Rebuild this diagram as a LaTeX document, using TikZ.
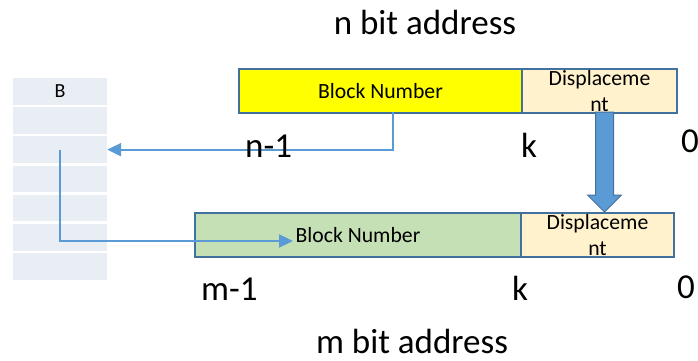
\documentclass[tikz,border=0pt]{standalone}
\usepackage{fontspec}
\setmainfont{Carlito}
\usetikzlibrary{arrows.meta}
\definecolor{bord}{HTML}{41719C}
\definecolor{arr}{HTML}{5B9BD5}
\definecolor{yel}{HTML}{FFFF00}
\definecolor{grn}{HTML}{C5E0B4}
\definecolor{disp}{HTML}{FFF2CC}
\definecolor{mem}{HTML}{E9EDF4}
\begin{document}
\begin{tikzpicture}[x=1pt,y=-1pt,
 field/.style={draw=bord,line width=2pt,inner sep=0pt,anchor=north west,font=\fontsize{21.7}{25.5}\selectfont,align=center},
 memrow/.style={fill=mem,minimum width=94pt,minimum height=26.5pt,inner sep=0pt,font=\fontsize{20}{22}\selectfont},
 lbl/.style={inner sep=0pt,font=\fontsize{35}{38}\selectfont},
 conn/.style={draw=arr,line width=2.3pt,-{Triangle[length=14pt,width=13pt]}}]
\useasboundingbox (0,0) rectangle (698,361);
% memory table
\foreach \i/\t in {1/B,2/,3/,4/,5/,6/,7/}{
  \node[memrow] (r\i) at (60,{78+29.2*(\i-1)+13.25}) {\t};
}
% n bit address
\node[field,fill=yel,minimum width=283pt,minimum height=44pt] (yb) at (238,68) {Block Number};
\node[field,fill=disp,minimum width=155pt,minimum height=44pt] (db) at (521,68) {Displaceme\\nt};
% m bit address
\node[field,fill=grn,minimum width=326pt,minimum height=44pt] (gb) at (194,212) {Block Number};
\node[field,fill=disp,minimum width=153pt,minimum height=44pt] (db2) at (520,212) {Displaceme\\nt};
% block arrow
\draw[fill=arr,draw=bord,line width=1pt] (595.5,112) -- (613.5,112) -- (613.5,195) -- (621.5,195) -- (604.5,212) -- (587.5,195) -- (595.5,195) -- cycle;
% connectors
\coordinate (a1) at (393,112);
\draw[conn] (a1) |- (r3.east);
\coordinate (a2) at (293,241);
\draw[conn] (r3.center) |- (a2);
% labels
\node[lbl,anchor=base] (nbit) at (425,35) {n bit address};
\node[lbl,anchor=base,text depth=0pt] (mbit) at (412,353) {m bit address};
\node[lbl,anchor=base west] (n1) at (245,157) {n-1};
\node[lbl,anchor=base west] (k1) at (521,157) {k};
\node[lbl,anchor=base west] (z1) at (681,152) {0};
\node[lbl,anchor=base west] (m1) at (201,300) {m-1};
\node[lbl,anchor=base west] (k2) at (512,300) {k};
\node[lbl,anchor=base west] (z2) at (677,298) {0};
\end{tikzpicture}
\end{document}
